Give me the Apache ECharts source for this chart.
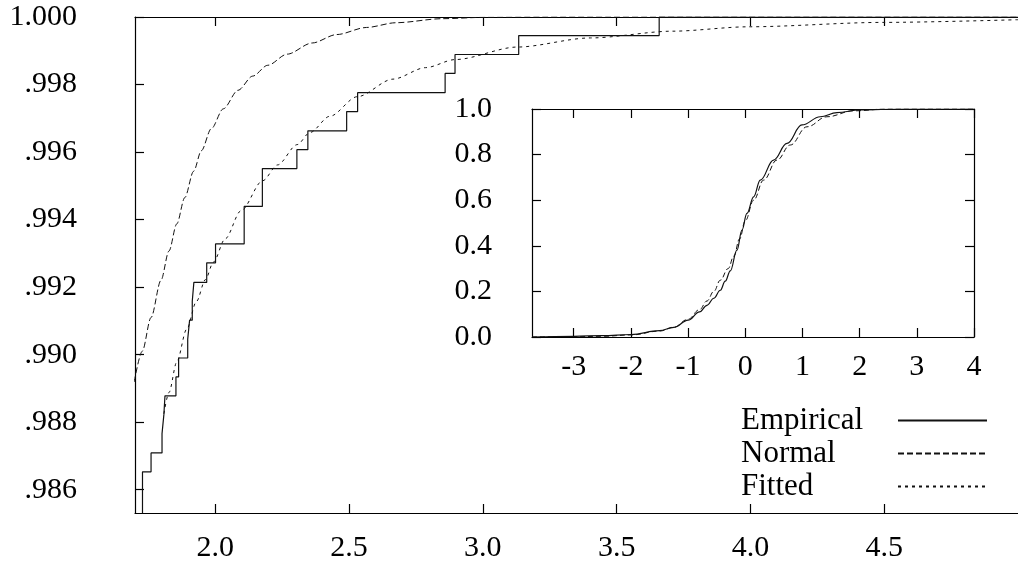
<!DOCTYPE html>
<html>
<head>
<meta charset="utf-8">
<script src="https://cdn.jsdelivr.net/npm/echarts@6/dist/echarts.min.js"></script>
<style>
  html, body { margin: 0; padding: 0; background: #fff; }
  #chart { width: 1018px; height: 563px; }
</style>
</head>
<body>
<div id="chart"></div>
<script>
// tick labels
const mainXTicks = [2.0, 2.5, 3.0, 3.5, 4.0, 4.5];
const mainYTicks = [0.986, 0.988, 0.990, 0.992, 0.994, 0.996, 0.998, 1.000];
const insetXTicks = [-3, -2, -1, 0, 1, 2, 3, 4];
const insetYTicks = [0, 0.2, 0.4, 0.6, 0.8, 1.0];

// main plot: upper tail, [x, F(x)]
const empiricalTail = [
  [1.728, 0.9840], [1.728, 0.98653], [1.760, 0.98709], [1.801, 0.98766], [1.808, 0.98823],
  [1.812, 0.98878], [1.853, 0.98934], [1.863, 0.98990], [1.897, 0.99046], [1.904, 0.99102],
  [1.914, 0.99158], [1.920, 0.99214], [1.968, 0.99272], [2.001, 0.99328], [2.108, 0.99439],
  [2.176, 0.99551], [2.305, 0.99607], [2.346, 0.99663], [2.491, 0.99720], [2.532, 0.99776],
  [2.859, 0.99833], [2.896, 0.99889], [3.134, 0.99945], [3.659, 1.0], [5.0, 1.0]
];
const normalTail = [
  [1.697, 0.98919], [1.727, 0.99010], [1.760, 0.99110], [1.797, 0.99220], [1.827, 0.99307],
  [1.856, 0.99387], [1.886, 0.99465], [1.919, 0.99543], [1.948, 0.99604], [1.985, 0.99669],
  [2.030, 0.99728], [2.085, 0.99783], [2.140, 0.99825], [2.196, 0.99857], [2.269, 0.99890],
  [2.362, 0.99923], [2.454, 0.99948], [2.565, 0.99969], [2.675, 0.99983], [2.849, 0.99995],
  [3.007, 0.99999], [3.23, 1.0], [5.0, 1.0]
];
const fittedTail = [
  [1.808, 0.98825], [1.827, 0.98888], [1.856, 0.98978], [1.893, 0.99075], [1.930, 0.99158],
  [1.963, 0.99222], [1.993, 0.99274], [2.037, 0.99343], [2.096, 0.99426], [2.177, 0.99515],
  [2.233, 0.99562], [2.306, 0.99622], [2.354, 0.99658], [2.428, 0.99706], [2.531, 0.99764],
  [2.664, 0.99816], [2.786, 0.99850], [2.897, 0.99874], [3.129, 0.99911], [3.402, 0.99938],
  [3.709, 0.99958], [3.993, 0.99971], [4.495, 0.99984], [5.0, 0.99992]
];

// inset: whole distribution
const empiricalAll = [
  [-3.73, 0.000], [-3.0, 0.003], [-2.5, 0.006], [-2.0, 0.011], [-1.5, 0.028], [-1.25, 0.042],
  [-1.0, 0.074], [-0.8, 0.11], [-0.67, 0.139], [-0.55, 0.17], [-0.437, 0.205], [-0.35, 0.245],
  [-0.262, 0.290], [-0.146, 0.381], [-0.058, 0.469], [0.029, 0.542], [0.146, 0.615], [0.262, 0.688],
  [0.495, 0.776], [0.729, 0.849], [0.991, 0.930], [1.311, 0.966], [1.603, 0.984], [2.01, 0.996],
  [2.5, 0.999], [3.0, 1.0], [4.0, 1.0]
];
const normalAll = [
  [-3.73, 0.0], [-3.0, 0.001], [-2.5, 0.003], [-2.0, 0.009], [-1.5, 0.026], [-1.25, 0.043],
  [-1.0, 0.078], [-0.8, 0.12], [-0.67, 0.158], [-0.55, 0.2], [-0.437, 0.249], [-0.3, 0.30],
  [-0.2, 0.355], [-0.1, 0.43], [0.0, 0.51], [0.146, 0.600], [0.32, 0.688], [0.554, 0.776],
  [0.787, 0.842], [1.079, 0.922], [1.428, 0.966], [1.893, 0.992], [2.48, 1.0], [4.0, 1.0]
];

const font = 'Liberation Serif';
const black = '#000';

function frameAxis(extra) {
  return Object.assign({
    type: 'value',
    axisLine: { show: true, onZero: false, lineStyle: { color: black, width: 1.2 } },
    axisLabel: { show: false },
    splitLine: { show: false }
  }, extra);
}

function ticks(values) {
  return { show: true, inside: true, length: 9, customValues: values, lineStyle: { color: black, width: 1.2 } };
}

function labels(values, margin, fmt) {
  return {
    show: true, customValues: values, margin: margin, color: black,
    fontFamily: font, fontSize: 30, formatter: fmt
  };
}

const mainYFmt = v => v >= 1 ? '1.000' : v.toFixed(3).slice(1);

const option = {
  backgroundColor: '#fff',
  animation: false,
  grid: [
    { left: 135, top: 17, right: -11, bottom: 50 },
    { left: 532, top: 109, width: 442, height: 228 }
  ],
  xAxis: [
    frameAxis({ gridIndex: 0, min: 1.7, max: 5.0, position: 'bottom',
      axisTick: ticks(mainXTicks), axisLabel: labels(mainXTicks, 20, v => v.toFixed(1)) }),
    frameAxis({ gridIndex: 0, min: 1.7, max: 5.0, position: 'top', axisTick: ticks(mainXTicks) }),
    frameAxis({ gridIndex: 1, min: -3.73, max: 4, position: 'bottom',
      axisTick: ticks(insetXTicks), axisLabel: labels(insetXTicks, 15, v => String(v)) }),
    frameAxis({ gridIndex: 1, min: -3.73, max: 4, position: 'top', axisTick: ticks(insetXTicks) })
  ],
  yAxis: [
    frameAxis({ gridIndex: 0, min: 0.98531, max: 1.0, position: 'left',
      axisTick: ticks(mainYTicks), axisLabel: labels(mainYTicks, 58, mainYFmt) }),
    frameAxis({ gridIndex: 1, min: 0, max: 1, position: 'left',
      axisTick: ticks(insetYTicks), axisLabel: labels(insetYTicks, 40, v => v.toFixed(1)) }),
    frameAxis({ gridIndex: 1, min: 0, max: 1, position: 'right', axisTick: ticks(insetYTicks) })
  ],
  legend: {
    orient: 'vertical',
    left: 736,
    top: 400,
    align: 'right',
    itemWidth: 89,
    itemHeight: 12,
    itemGap: 2,
    selectedMode: false,
    data: ['Empirical', 'Normal', 'Fitted'],
    itemStyle: { opacity: 0, color: 'rgba(0,0,0,0)', borderColor: 'rgba(0,0,0,0)', borderWidth: 0 },
    formatter: name => '{n|' + name + '}',
    textStyle: {
      fontFamily: font, fontSize: 31, color: black,
      rich: { n: { width: 152, align: 'left', fontFamily: font, fontSize: 31, color: black, lineHeight: 32 } }
    }
  },
  series: [
    {
      name: 'Empirical', type: 'line', xAxisIndex: 0, yAxisIndex: 0, step: 'end',
      symbol: 'none', data: empiricalTail,
      lineStyle: { color: '#111', width: 1.2 }
    },
    {
      name: 'Normal', type: 'line', xAxisIndex: 0, yAxisIndex: 0, smooth: 0.3, smoothMonotone: 'x',
      symbol: 'none', data: normalTail,
      lineStyle: { color: '#111', width: 1, type: [6, 3] }
    },
    {
      name: 'Fitted', type: 'line', xAxisIndex: 0, yAxisIndex: 0, smooth: 0.3, smoothMonotone: 'x',
      symbol: 'none', data: fittedTail,
      lineStyle: { color: '#111', width: 1, type: [3, 4] }
    },
    {
      name: 'Empirical', type: 'line', xAxisIndex: 2, yAxisIndex: 1, smooth: 0.4, smoothMonotone: 'x',
      symbol: 'none', data: empiricalAll,
      lineStyle: { color: '#111', width: 1.2 }
    },
    {
      name: 'Normal', type: 'line', xAxisIndex: 2, yAxisIndex: 1, smooth: 0.4, smoothMonotone: 'x',
      symbol: 'none', data: normalAll,
      lineStyle: { color: '#111', width: 1, type: [5, 3] }
    }
  ]
};

const chart = echarts.init(document.getElementById('chart'));
chart.setOption(option);
</script>
</body>
</html>
